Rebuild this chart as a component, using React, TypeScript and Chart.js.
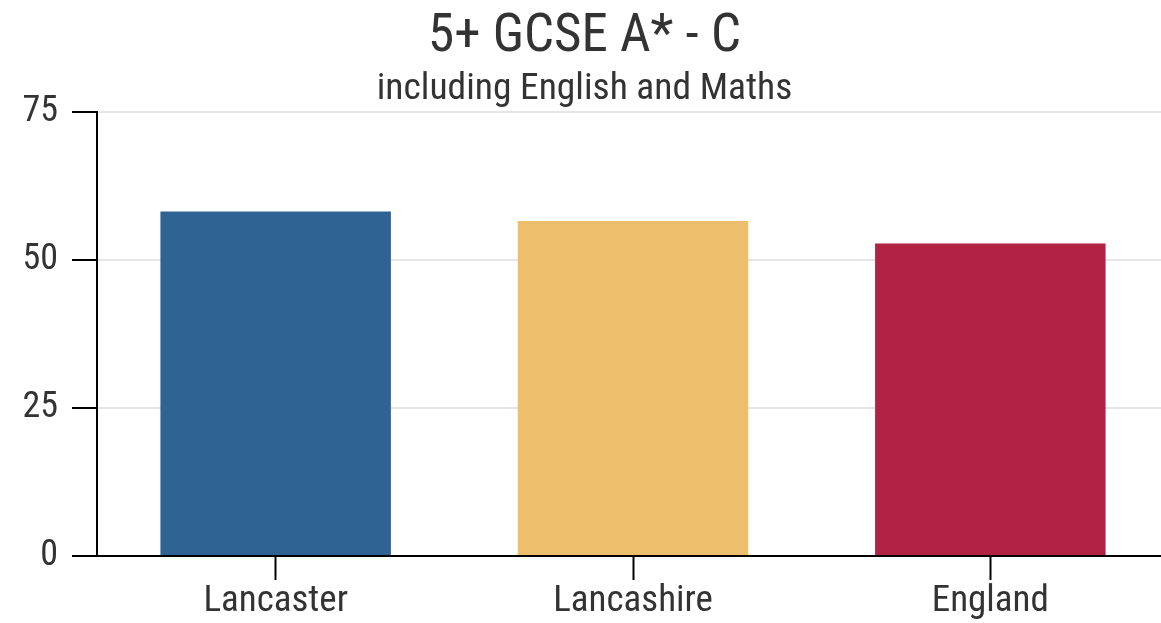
import React, { useEffect, useRef } from "react";
import { Chart, registerables } from "chart.js";

Chart.register(...registerables);

const categories = ["Lancaster", "Lancashire", "England"];
const values = [58.2, 56.6, 52.8];
const barColors = ["#2E6393", "#EDBE6C", "#B22343"];
const yTicks = [0, 25, 50, 75];

const FONT = "'Roboto Condensed', 'Liberation Sans Narrow', Roboto, sans-serif";

export default function App() {
  const ref = useRef<HTMLCanvasElement | null>(null);

  useEffect(() => {
    document.body.style.margin = "0";
    const ctx = ref.current!;
    const chart = new Chart(ctx, {
      type: "bar",
      data: {
        labels: categories,
        datasets: [
          {
            data: values,
            backgroundColor: barColors,
            borderWidth: 0,
            barPercentage: 0.645,
            categoryPercentage: 1,
          },
        ],
      },
      options: {
        animation: false,
        responsive: false,
        maintainAspectRatio: false,
        layout: { padding: { top: 0, left: 0, right: 0, bottom: 0 } },
        plugins: {
          legend: { display: false },
          tooltip: { enabled: false },
          title: {
            display: true,
            text: "5+ GCSE A* - C",
            color: "#333333",
            font: { family: FONT, size: 53, weight: "normal", lineHeight: 1.15 },
            padding: { top: 7, bottom: 0 },
          },
          subtitle: {
            display: true,
            text: "including English and Maths",
            color: "#333333",
            font: { family: FONT, size: 37.5, weight: "normal", lineHeight: 1.15 },
            padding: { top: 0, bottom: 1 },
          },
        },
        scales: {
          x: {
            grid: {
              offset: false,
              drawOnChartArea: false,
              drawTicks: true,
              tickLength: 24,
              tickColor: "#000000",
              tickWidth: 2,
            },
            border: { display: true, color: "#000000", width: 2 },
            ticks: {
              color: "#333333",
              font: { family: FONT, size: 37 },
              padding: 0,
            },
            afterFit: (s: any) => {
              s.height = 67;
            },
          },
          y: {
            min: 0,
            max: 75,
            afterBuildTicks: (s: any) => {
              s.ticks = yTicks.map((v) => ({ value: v }));
            },
            grid: {
              color: "#E6E6E6",
              lineWidth: 2,
              tickLength: 25,
              tickColor: "#000000",
              tickWidth: 2,
            },
            border: { display: true, color: "#000000", width: 2 },
            ticks: {
              color: "#333333",
              font: { family: FONT, size: 36 },
              padding: 14,
            },
            afterFit: (s: any) => {
              s.width = 97;
            },
          },
        },
      },
    });
    return () => chart.destroy();
  }, []);

  return (
    <div style={{ width: 1161, height: 623, overflow: "hidden", position: "relative" }}>
      <canvas ref={ref} width={1169} height={623} style={{ display: "block" }} />
    </div>
  );
}
